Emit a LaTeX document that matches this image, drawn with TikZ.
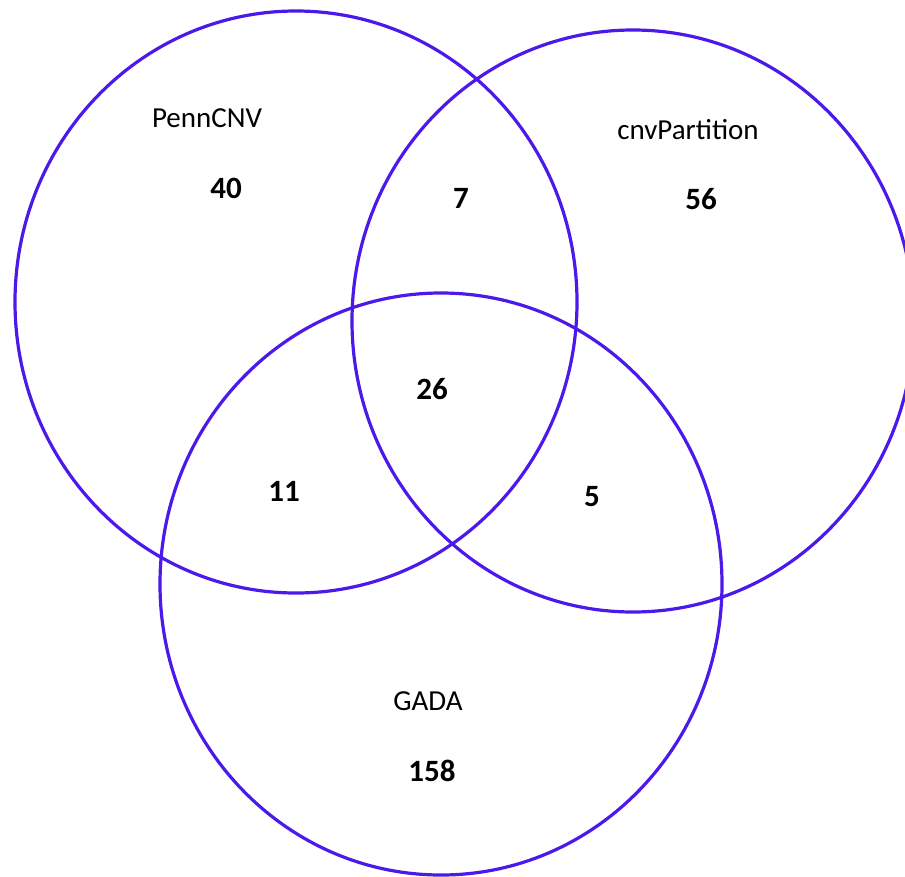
\documentclass[tikz,border=0pt]{standalone}
\usepackage{fontspec}
\setmainfont{Carlito}
\begin{document}
\begin{tikzpicture}[x=1pt,y=-1pt,line join = round, line cap = round,font=\fontsize{29}{34}\selectfont]
            \definecolor{vennblue}{rgb}{0.30, 0.10, 0.92}
            \tikzset{ring/.style={draw=vennblue,line width=3.2pt},
                     setname/.style={inner sep=0pt},
                     count/.style={inner sep=0pt,font=\fontsize{31}{36}\selectfont\bfseries}}
            \useasboundingbox (0,0) rectangle (905,876);
            \clip (0,0) rectangle (905,876);
            %===============================
            \def\rx{281pt} \def\ry{291pt}
            \draw[ring] (296,302) ellipse [x radius=\rx, y radius=\ry];
            \draw[ring] (633,321) ellipse [x radius=\rx, y radius=\ry];
            \draw[ring] (441,584) ellipse [x radius=\rx, y radius=\ry];
            %===============================
            \node[setname] (penn) at (207,118) {PennCNV};
            \node[setname] (cnvp) at (688,130) {cnvPartition};
            \node[setname] (gada) at (428,701) {GADA};
            
            \node[count] (onlyP) at (226,188) {40};
            \node[count] (onlyC) at (701,199) {56};
            \node[count] (onlyG) at (432,771) {158};
            \node[count] (PC) at (461,198) {7};
            \node[count] (PCG) at (432,389) {26};
            \node[count] (PG) at (284,491) {11};
            \node[count] (CG) at (592,497) {5};
        \end{tikzpicture}
\end{document}
